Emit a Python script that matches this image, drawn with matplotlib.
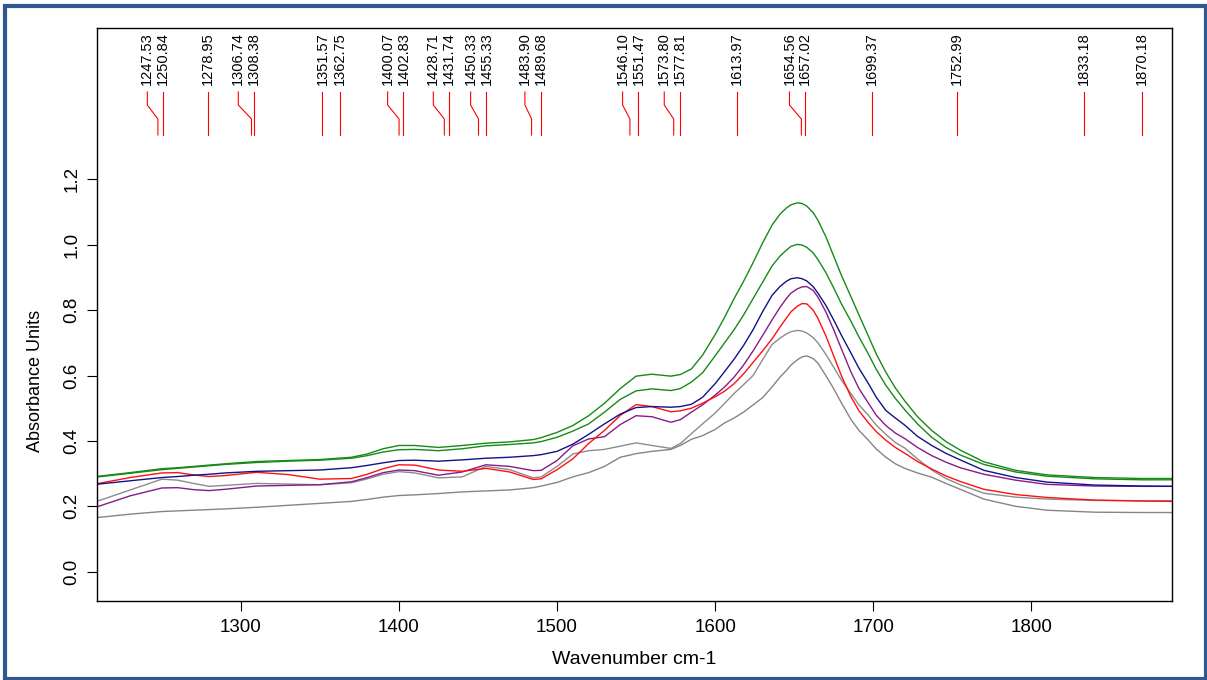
import matplotlib
matplotlib.use("Agg")
import matplotlib.pyplot as plt
from matplotlib.patches import Rectangle

plt.rcParams['font.family'] = ['Liberation Sans', 'DejaVu Sans']

# ---------------- data ----------------
wavenumber = [1210, 1230, 1250, 1260, 1270, 1280, 1290, 1310, 1330, 1350,
              1370, 1380, 1390, 1400, 1410, 1425, 1440, 1455, 1470, 1485,
              1490, 1500, 1510, 1520, 1530, 1540, 1550, 1560, 1572, 1578,
              1585, 1592, 1600, 1606, 1612, 1618, 1624, 1630, 1636, 1641,
              1645, 1648, 1652, 1655, 1658, 1662, 1665, 1670, 1675, 1680,
              1686, 1691, 1697, 1702, 1708, 1714, 1720, 1728, 1737, 1746,
              1755, 1770, 1790, 1810, 1840, 1870, 1890]

green_upper = [.292, .303, .315, .318, .322, .326, .330, .337, .340, .343,
               .350, .360, .376, .386, .386, .380, .386, .393, .397, .404,
               .410, .426, .447, .477, .515, .560, .598, .604, .598, .603,
               .620, .662, .725, .778, .835, .888, .945, 1.005, 1.060, 1.093,
               1.112, 1.122, 1.128, 1.126, 1.118, 1.098, 1.075, 1.025, .965, .905,
               .840, .785, .720, .665, .610, .562, .522, .474, .432, .398,
               .372, .336, .310, .296, .288, .285, .285]

green_lower = [.290, .301, .312, .316, .320, .324, .328, .334, .338, .341,
               .347, .355, .366, .373, .374, .370, .376, .385, .389, .394,
               .398, .411, .430, .452, .488, .527, .553, .559, .554, .560,
               .580, .608, .660, .700, .740, .785, .835, .885, .935, .965,
               .983, .995, 1.001, .999, .992, .975, .955, .915, .868, .818,
               .765, .718, .665, .618, .570, .530, .495, .452, .411, .380,
               .357, .328, .305, .292, .284, .281, .281]

blue = [.268, .278, .288, .291, .295, .298, .302, .307, .309, .311,
        .318, .325, .333, .340, .341, .338, .342, .347, .350, .355,
        .358, .368, .390, .420, .452, .482, .502, .505, .503, .505,
        .512, .533, .575, .612, .650, .692, .740, .795, .845, .872,
        .888, .896, .899, .896, .889, .872, .852, .815, .770, .722,
        .668, .622, .575, .533, .493, .470, .448, .414, .386, .362,
        .342, .310, .288, .274, .265, .262, .261]

purple = [.200, .232, .256, .257, .251, .248, .252, .262, .264, .266,
          .275, .288, .303, .311, .309, .295, .305, .327, .322, .309,
          .310, .340, .385, .406, .413, .450, .477, .474, .457, .465,
          .488, .510, .540, .565, .595, .632, .675, .722, .770, .808,
          .835, .852, .865, .871, .872, .860, .840, .795, .740, .680,
          .610, .560, .515, .478, .447, .424, .407, .380, .355, .335,
          .318, .298, .280, .267, .262, .261, .261]

red = [.270, .288, .302, .303, .296, .291, .294, .304, .297, .283,
       .285, .298, .315, .327, .326, .311, .307, .316, .305, .282,
       .284, .312, .345, .392, .432, .478, .511, .505, .489, .492,
       .500, .515, .535, .552, .575, .605, .640, .675, .712, .748,
       .775, .795, .812, .820, .819, .800, .775, .722, .660, .598,
       .534, .492, .455, .428, .402, .380, .362, .337, .314, .293,
       .276, .252, .236, .227, .219, .216, .215]

gray_upper = [.217, .250, .283, .280, .270, .261, .264, .270, .268, .266,
              .272, .284, .298, .306, .302, .287, .290, .322, .312, .287,
              .290, .322, .360, .370, .374, .384, .394, .386, .377, .392,
              .422, .452, .485, .515, .545, .572, .600, .648, .695, .714,
              .727, .734, .738, .736, .730, .716, .700, .665, .625, .585,
              .544, .510, .478, .448, .420, .395, .378, .345, .311, .285,
              .266, .240, .228, .222, .218, .217, .217]

gray_lower = [.166, .176, .184, .186, .188, .190, .192, .197, .203, .209,
              .215, .221, .228, .233, .235, .239, .244, .247, .250, .257,
              .262, .273, .290, .303, .322, .350, .361, .368, .374, .386,
              .405, .416, .435, .455, .470, .488, .510, .532, .565, .595,
              .615, .632, .648, .657, .660, .652, .638, .600, .560, .515,
              .465, .432, .402, .375, .350, .330, .316, .302, .289, .270,
              .252, .222, .200, .188, .182, .181, .181]

peaks = [1247.53, 1250.84, 1278.95, 1306.74, 1308.38, 1351.57, 1362.75,
         1400.07, 1402.83, 1428.71, 1431.74, 1450.33, 1455.33, 1483.90,
         1489.68, 1546.10, 1551.47, 1573.80, 1577.81, 1613.97, 1654.56,
         1657.02, 1699.37, 1752.99, 1833.18, 1870.18]

x_ticks = [1300, 1400, 1500, 1600, 1700, 1800]
y_ticks = [0.0, 0.2, 0.4, 0.6, 0.8, 1.0, 1.2]

series = [
    (gray_lower, '#858585'),
    (gray_upper, '#8c8c8c'),
    (purple, '#8a1a8a'),
    (red, '#ff1010'),
    (blue, '#12128a'),
    (green_lower, '#178a17'),
    (green_upper, '#178a17'),
]

# ---------------- figure ----------------
W, H = 1207, 680
fig = plt.figure(figsize=(W / 100, H / 100), dpi=100)
ax = fig.add_axes([97 / W, 79 / H, 1075 / W, 573 / H])

for vals, col in series:
    ax.plot(wavenumber, vals, color=col, lw=1.0)

xmin, xmax = 1209, 1889
ax.set_xlim(xmin, xmax)
ax.set_ylim(-0.0896, 1.6627)
ax.set_xticks(x_ticks)
ax.set_xticklabels([str(t) for t in x_ticks])
ax.set_yticks(y_ticks)
ax.set_yticklabels(['%.1f' % t for t in y_ticks], rotation=90, va='center')
ax.tick_params(axis='both', direction='out', length=7, width=0.8,
               labelsize=13.5, colors='black')
ax.tick_params(axis='x', pad=6)
ax.tick_params(axis='y', pad=5)
for s in ax.spines.values():
    s.set_linewidth(1.0)
    s.set_color('black')

# peak markers with label repel
px_per_unit = 1075 / (xmax - xmin)
min_gap = 15.8 / px_per_unit
label_x = list(peaks)
for i in range(len(peaks) - 2, -1, -1):
    label_x[i] = min(peaks[i], label_x[i + 1] - min_gap)

trans = ax.get_xaxis_transform()
y_lab = (601 - 85) / 573
y1 = (601 - 92) / 573
y2 = (601 - 105) / 573
y3 = (601 - 119) / 573
y4 = (601 - 135) / 573
for p, lx in zip(peaks, label_x):
    ax.text(lx, y_lab, '%.2f' % p, rotation=90, ha='center', va='bottom',
            fontsize=10.5, transform=trans, color='black')
    if abs(lx - p) < 1e-6:
        ax.plot([p, p], [y1, y4], color='#ff0000', lw=0.8, transform=trans,
                clip_on=False)
    else:
        ax.plot([lx, lx, p, p], [y1, y2, y3, y4], color='#ff0000', lw=0.8,
                transform=trans, clip_on=False)

fig.text(634 / W, 1 - 663.5 / H, 'Wavenumber cm-1', ha='center',
         va='baseline', fontsize=14)
fig.text(36 / W, 1 - 381 / H, 'Absorbance Units', ha='center', va='center',
         rotation=90, fontsize=13)

# outer blue frame
fig.patches.append(Rectangle((5.3 / W, 1.5 / H), (1205.5 - 5.3) / W,
                             (678.5 - 6) / H, transform=fig.transFigure,
                             fill=False, edgecolor='#2F5791', lw=3.0))

fig.savefig('out.png', dpi=100, facecolor='white')
